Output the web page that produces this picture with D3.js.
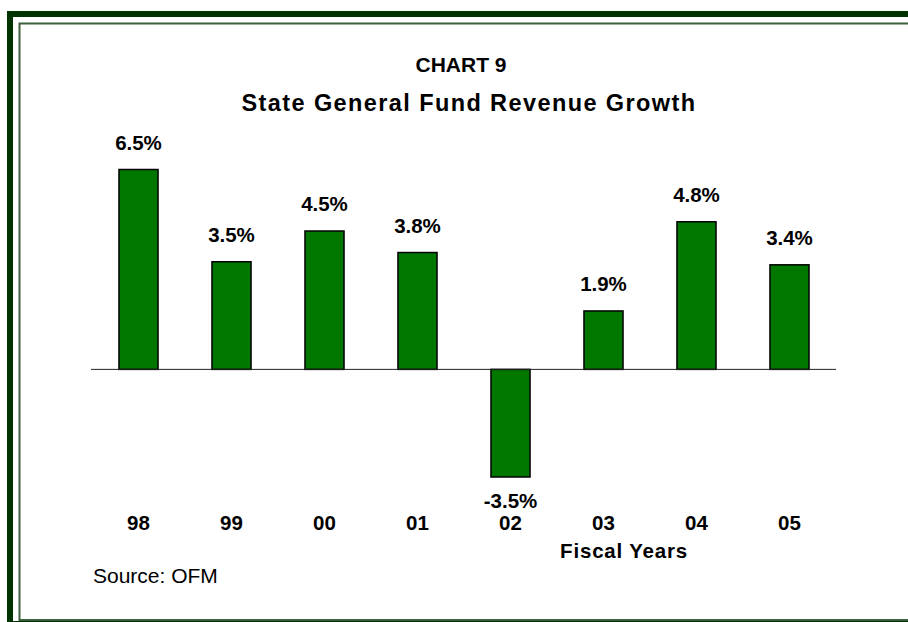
<!DOCTYPE html>
<html>
<head>
<meta charset="utf-8">
<title>Chart 9</title>
<script src="https://cdn.jsdelivr.net/npm/d3@7"></script>
<style>
	body { margin: 0; background: #ffffff; }
	#chart-wrap { width: 908px; height: 622px; }
	text { font-family: Arial, "Liberation Sans", sans-serif; fill: #000000; }
</style>
</head>
<body>
<div id="chart-wrap"></div>
<script>
//Javascript document

//Data
const years = ["98", "99", "00", "01", "02", "03", "04", "05"];
const growth = [6.5, 3.5, 4.5, 3.8, -3.5, 1.9, 4.8, 3.4];
const growthLabels = ["6.5%", "3.5%", "4.5%", "3.8%", "-3.5%", "1.9%", "4.8%", "3.4%"];

//Constants
const width = 908;
const height = 622;
const barColor = "#007800";

let chartSvg = d3.select('#chart-wrap')
	.append("svg")
	.attr("width", width)
	.attr("height", height);

//Frame: thick dark green outer, thin inner line
chartSvg.append("rect")
	.attr("x", 10).attr("y", 14)
	.attr("width", 1000).attr("height", 610)
	.style("fill", "none")
	.style("stroke", "#003300")
	.style("stroke-width", 6);

chartSvg.append("rect")
	.attr("x", 19.5).attr("y", 23.5)
	.attr("width", 1000).attr("height", 596.5)
	.style("fill", "none")
	.style("stroke", "#3d5f3d")
	.style("stroke-width", 2);

//Scales
let xScale = d3.scaleBand()
	.domain(years)
	.range([92, 836])
	.paddingInner(0.58)
	.paddingOuter(0.29);

let yScale = d3.scaleLinear()
	.domain([-3.5, 6.5])
	.range([477, 169.5]);

//Titles
chartSvg.append("text")
	.attr("x", 461).attr("y", 71.5)
	.attr("text-anchor", "middle")
	.style("font-size", "21px")
	.style("font-weight", "bold")
	.text("CHART 9");

chartSvg.append("text")
	.attr("x", 469).attr("y", 111)
	.attr("text-anchor", "middle")
	.style("font-size", "23.5px")
	.style("font-weight", "bold")
	.style("letter-spacing", "1.4px")
	.text("State General Fund Revenue Growth");

//Bars
let rows = years.map(function(y, i) { return {year: y, value: growth[i], label: growthLabels[i]}; });

chartSvg.selectAll('rect.bar')
	.data(rows)
	.enter()
	.append('rect')
	.attr('class', 'bar')
	.attr('x', function(d) { return xScale(d.year); })
	.attr('width', xScale.bandwidth())
	.attr('y', function(d) { return yScale(Math.max(0, d.value)); })
	.attr('height', function(d) { return Math.abs(yScale(d.value) - yScale(0)); })
	.style('fill', barColor)
	.style('stroke', '#000000')
	.style('stroke-width', 1.5);

//Zero line
chartSvg.append("line")
	.attr("x1", xScale.range()[0] - 1).attr("x2", xScale.range()[1])
	.attr("y1", yScale(0)).attr("y2", yScale(0))
	.style("stroke", "#222222")
	.style("stroke-width", 1);

//Value labels
chartSvg.selectAll('text.val')
	.data(rows)
	.enter()
	.append('text')
	.attr('class', 'val')
	.attr('x', function(d) { return xScale(d.year) + xScale.bandwidth() / 2; })
	.attr('y', function(d) { return d.value >= 0 ? yScale(d.value) - 20 : yScale(d.value) + 31; })
	.attr('text-anchor', 'middle')
	.style('font-size', '20.5px')
	.style('font-weight', 'bold')
	.text(function(d) { return d.label; });

//Category labels
chartSvg.selectAll('text.cat')
	.data(years)
	.enter()
	.append('text')
	.attr('class', 'cat')
	.attr('x', function(d) { return xScale(d) + xScale.bandwidth() / 2; })
	.attr('y', 529.5)
	.attr('text-anchor', 'middle')
	.style('font-size', '20.5px')
	.style('font-weight', 'bold')
	.text(function(d) { return d; });

chartSvg.append("text")
	.attr("x", 624).attr("y", 558)
	.attr("text-anchor", "middle")
	.style("font-size", "20.5px")
	.style("font-weight", "bold")
	.style("letter-spacing", "0.8px")
	.text("Fiscal Years");

chartSvg.append("text")
	.attr("x", 93).attr("y", 583)
	.style("font-size", "21px")
	.text("Source: OFM");
</script>
</body>
</html>
